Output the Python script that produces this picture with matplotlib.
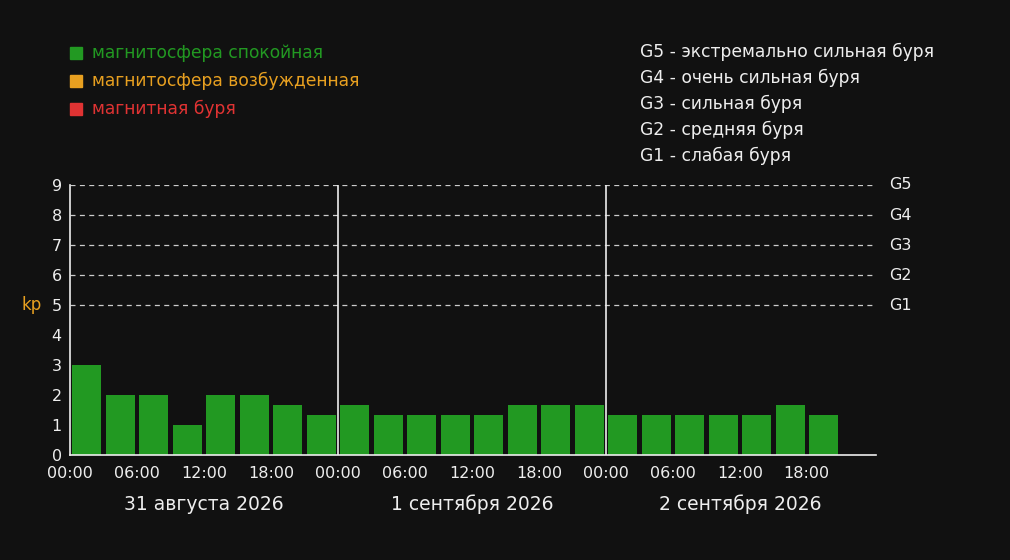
import matplotlib.pyplot as plt
import numpy as np

# Kp index, 3-hour intervals, starting 31 Aug 00:00
kp_values = [3, 2, 2, 1, 2, 2, 1.67, 1.33,
             1.67, 1.33, 1.33, 1.33, 1.33, 1.67, 1.67, 1.67,
             1.33, 1.33, 1.33, 1.33, 1.33, 1.67, 1.33]
tick_labels = ['00:00', '06:00', '12:00', '18:00'] * 3
day_labels = ['31 августа 2026', '1 сентября 2026', '2 сентября 2026']
g_levels = [5, 6, 7, 8, 9]
g_names = ['G1', 'G2', 'G3', 'G4', 'G5']
g_desc = ['G5 - экстремально сильная буря', 'G4 - очень сильная буря',
          'G3 - сильная буря', 'G2 - средняя буря', 'G1 - слабая буря']
legend_labels = ['магнитосфера спокойная', 'магнитосфера возбужденная', 'магнитная буря']

BG = '#111111'
FG = '#eeeeee'
GREEN = '#229922'
ORANGE = '#e8a020'
RED = '#e03333'
legend_colors = [GREEN, ORANGE, RED]


def bar_color(v):
    if v >= 5:
        return RED
    if v >= 4:
        return ORANGE
    return GREEN


fig = plt.figure(figsize=(10.1, 5.6), dpi=100, facecolor=BG)
ax = fig.add_axes([70 / 1010, 105 / 560, 806 / 1010, 270 / 560])
ax.set_facecolor(BG)

hours = np.arange(len(kp_values)) * 3 + 1.5
ax.bar(hours, kp_values, width=2.6, color=[bar_color(v) for v in kp_values], zorder=2)

ax.set_xlim(0, 72.2)
ax.set_ylim(0, 9)

for lvl in g_levels:
    ax.axhline(lvl, color='#cccccc', lw=0.9, ls=(0, (4, 3.5)), zorder=1)
for d in [24, 48]:
    ax.axvline(d, color=FG, lw=1.2, zorder=3)

ax.set_xticks(np.arange(0, 72, 6))
ax.set_xticklabels(tick_labels)
ax.set_yticks(range(10))
ax.tick_params(colors=FG, labelsize=11.5, length=0, pad=6)
ax.tick_params(axis='x', pad=8)

for s in ['top', 'right']:
    ax.spines[s].set_visible(False)
for s in ['left', 'bottom']:
    ax.spines[s].set_color(FG)
    ax.spines[s].set_linewidth(1.2)

ax.text(-0.047, 5, 'kp', color=ORANGE, fontsize=12, ha='center', va='center',
        transform=ax.get_yaxis_transform())

for lvl, name in zip(g_levels, g_names):
    ax.text(1.016, lvl, name, color=FG, fontsize=11.5, va='center', ha='left',
            transform=ax.get_yaxis_transform())

for i, lab in enumerate(day_labels):
    ax.text(12 + 24 * i, -1.65, lab, color=FG, fontsize=13.5, ha='center', va='center')

for i, (lab, c) in enumerate(zip(legend_labels, legend_colors)):
    y = 1 - (53 + 28 * i) / 560
    fig.patches.append(plt.Rectangle((70 / 1010, y - 6 / 560), 12 / 1010, 12 / 560,
                                     transform=fig.transFigure, color=c))
    fig.text(92 / 1010, y, lab, color=c, fontsize=12.3, va='center', ha='left')

for i, lab in enumerate(g_desc):
    fig.text(640 / 1010, 1 - (52 + 26 * i) / 560, lab, color=FG, fontsize=12.3,
             va='center', ha='left')

fig.savefig('out.png', dpi=100, facecolor=BG)
